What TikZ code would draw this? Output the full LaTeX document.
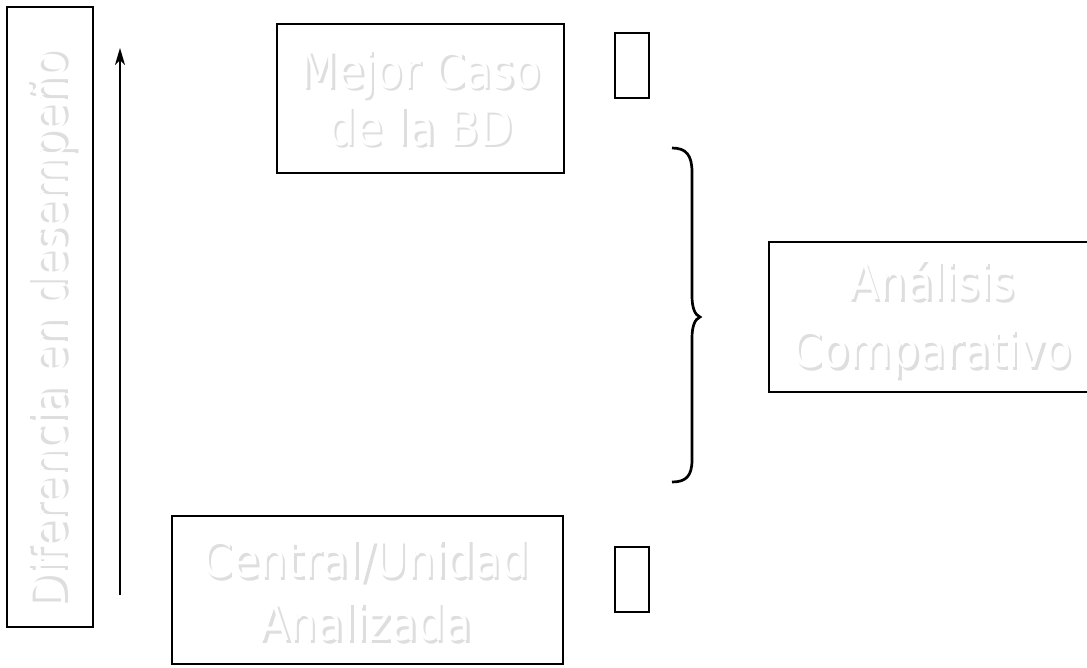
\documentclass[tikz,border=0pt]{standalone}
\usepackage{fontspec}
\setmainfont{DejaVu Sans}[FakeStretch=0.87]
\usetikzlibrary{arrows.meta}
% texto blanco con sombra gris
\newcommand{\conSombra}[1]{\leavevmode\rlap{\kern2.5pt\raisebox{-2.5pt}{\color{black!13}#1}}#1}

\begin{document}
\begin{tikzpicture}[x=1pt,y=-1pt,
		caja/.style={draw=black,line width=2.7pt,inner sep=0pt},
		letra/.style={text=white,align=center,font=\fontsize{50}{57}\selectfont}]
			\useasboundingbox (0,0) rectangle (1087,667);

			% Diferencia en desempeno
			\node[caja,minimum width=86,minimum height=620] (dif) at (50,317) {};
			\node[letra,rotate=90] (diftxt) at (53,331) {\conSombra{Diferencia en desempeño}};

			% Flecha
			\coordinate (flechaA) at (120,595);
			\coordinate (flechaB) at (120,48);
			\draw[-{Stealth[length=17pt,width=10pt,inset=5pt]},line width=2pt] (flechaA) -- (flechaB);

			% Mejor caso
			\node[caja,minimum width=287,minimum height=149] (mejor) at (420.5,98.5) {};
			\node[letra] (mejortxt) at (420.5,99.5) {\conSombra{Mejor Caso}\\\conSombra{de la BD}};

			% Central
			\node[caja,minimum width=391,minimum height=148] (central) at (367.5,590) {};
			\node[letra,font=\fontsize{50}{63}\selectfont] (centraltxt) at (365.5,592) {\conSombra{Central/Unidad}\\\conSombra{Analizada}};

			% Marcas
			\node[caja,minimum width=34,minimum height=65] (marcaA) at (632,65.5) {};
			\node[caja,minimum width=34,minimum height=65] (marcaB) at (632,579.5) {};

			% Llave
			\coordinate (llaveA) at (672,148);
			\coordinate (llaveB) at (672,482);
			\draw[line width=2.7pt] (llaveA) .. controls (686,148) and (692,155) .. (692,172) -- (692,296)
				.. controls (692,308) and (695,315) .. (700,317)
				.. controls (695,319) and (692,326) .. (692,338) -- (692,460)
				.. controls (692,476) and (686,482) .. (llaveB);

			% Analisis comparativo
			\node[caja,minimum width=330,minimum height=150] (analisis) at (934,317) {};
			\node[letra,font=\fontsize{50}{68}\selectfont] (analisistxt) at (932,320) {\conSombra{Análisis}\\\conSombra{Comparativo}};

		\end{tikzpicture}
\end{document}
